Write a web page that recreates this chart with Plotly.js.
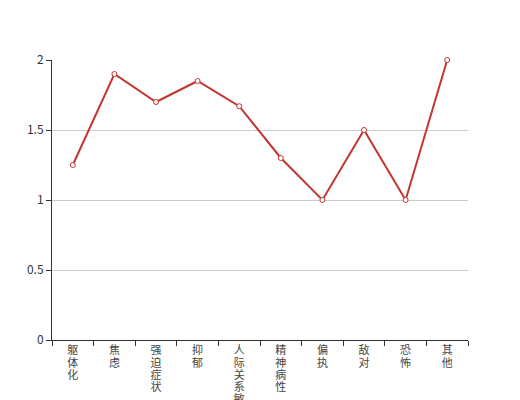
<!DOCTYPE html>
<html>
<head>
<meta charset="utf-8">
<script src="https://cdn.plot.ly/plotly-3.0.1.min.js"></script>
<style>html,body{margin:0;padding:0;background:#fff;}#chart{width:520px;height:400px;}</style>
</head>
<body>
<div id="chart"></div>
<script>
var categories = ['躯体化', '焦虑', '强迫症状', '抑郁', '人际关系敏感', '精神病性', '偏执', '敌对', '恐怖', '其他'];
var values = [1.25, 1.9, 1.7, 1.85, 1.67, 1.3, 1.0, 1.5, 1.0, 2.0];
var yTickVals = [0, 0.5, 1, 1.5, 2];
var yTickText = ['0', '0.5', '1', '1.5', '2'];

var vertLabels = categories.map(function (c) { return c.split('').join('<br>'); });

var trace = {
  type: 'scatter',
  mode: 'lines+markers',
  x: categories,
  y: values,
  cliponaxis: false,
  line: { color: '#c23531', width: 2 },
  marker: { symbol: 'circle', size: 5, color: '#ffffff', line: { color: '#c23531', width: 1 } },
  hoverinfo: 'x+y'
};

var layout = {
  width: 520,
  height: 400,
  margin: { l: 52, r: 52, t: 60, b: 60 },
  paper_bgcolor: '#ffffff',
  plot_bgcolor: '#ffffff',
  showlegend: false,
  font: { family: '"Noto Sans CJK SC", "Noto Sans", sans-serif', size: 12, color: '#333' },
  xaxis: {
    type: 'category',
    tickvals: categories,
    ticktext: vertLabels,
    tickson: 'boundaries',
    ticks: 'outside',
    ticklen: 5,
    tickcolor: '#333',
    showline: true,
    linecolor: '#333',
    linewidth: 1,
    showgrid: false,
    zeroline: false,
    tickangle: 0,
    tickfont: { size: 11, color: '#444' },
    range: [-0.5, 9.5],
    fixedrange: true
  },
  yaxis: {
    range: [0, 2],
    tickvals: yTickVals,
    ticktext: yTickText,
    ticks: 'outside',
    ticklen: 5,
    tickcolor: '#333',
    showline: true,
    linecolor: '#333',
    linewidth: 1,
    showgrid: true,
    gridcolor: '#cccccc',
    gridwidth: 1,
    zeroline: false,
    tickfont: { size: 12, color: '#333' },
    fixedrange: true
  }
};

function tightenLabels() {
  var texts = document.querySelectorAll('#chart .xtick text');
  texts.forEach(function (t) {
    var lines = t.querySelectorAll('tspan.line');
    lines.forEach(function (ln, i) {
      ln.setAttribute('dy', (i * 1.12) + 'em');
    });
  });
}

Plotly.newPlot('chart', [trace], layout, { displayModeBar: false, staticPlot: true }).then(tightenLabels);
</script>
</body>
</html>
